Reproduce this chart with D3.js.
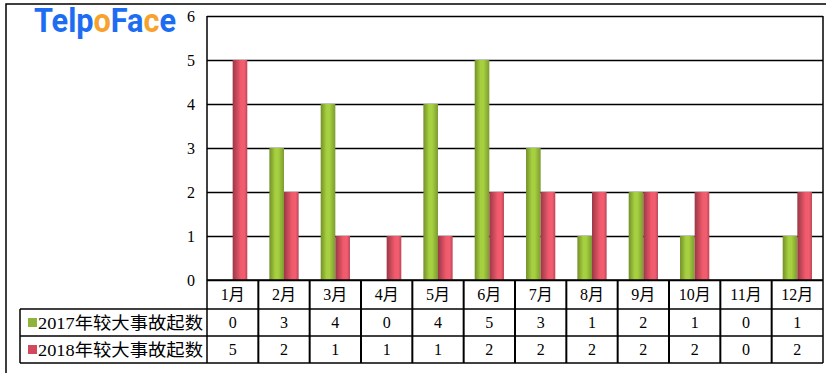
<!DOCTYPE html>
<html><head><meta charset="utf-8">
<script src="https://cdn.jsdelivr.net/npm/d3@7"></script>
<style>body{margin:0;background:#fff;}svg{display:block;}</style>
</head><body>
<svg id="c" width="826" height="373"></svg>
<script>
const months = ["1月","2月","3月","4月","5月","6月","7月","8月","9月","10月","11月","12月"];
const seriesNames = ["2017年较大事故起数","2018年较大事故起数"];
const values2017 = [0,3,4,0,4,5,3,1,2,1,0,1];
const values2018 = [5,2,1,1,1,2,2,2,2,2,0,2];
const yTicks = [0,1,2,3,4,5,6];

const svg = d3.select("#c");
const L = 207, R = 823, T = 16, B = 280;
const rowH = 27, headH = 29;
const serif = "'Liberation Serif','Noto Sans CJK SC',serif";

const defs = svg.append("defs");
function grad(id, stops){
  const g = defs.append("linearGradient").attr("id", id).attr("x1","0%").attr("x2","100%").attr("y1","0%").attr("y2","0%");
  stops.forEach(s => g.append("stop").attr("offset", s[0]).attr("stop-color", s[1]));
}
grad("gGreen", [["0%","#748f2a"],["40%","#a6d040"],["60%","#a6d040"],["100%","#7c9b30"]]);
grad("gRed", [["0%","#9a3846"],["55%","#f05a6c"],["80%","#f25d6f"],["100%","#b94558"]]);
const fills = ["url(#gGreen)","url(#gRed)"];
const swatch = ["#8fb43c","#d04a5c"];

const x0 = d3.scaleBand().domain(months).range([L, R]).padding(0);
const bw = x0.bandwidth();
const x1 = d3.scaleBand().domain([0,1]).range([0.215*bw, 0.785*bw]).padding(0);
const y = d3.scaleLinear().domain([0,6]).range([B, T]);

svg.append("path").attr("d", `M6,373 V4 H826`).attr("fill","none").attr("stroke","#000").attr("stroke-width",1.5);

const yAxis = d3.axisLeft(y).tickValues(yTicks).tickSize(-(R-L)).tickFormat(d3.format("d")).tickPadding(12);
const gy = svg.append("g").attr("transform",`translate(${L},0)`).call(yAxis);
gy.select(".domain").remove();
gy.selectAll(".tick line").attr("stroke","#000").attr("stroke-width",1.3);
gy.selectAll(".tick text").attr("font-family",serif).attr("font-size",16).attr("fill","#000").attr("dy","0.32em");

const data = [values2017, values2018];
data.forEach((vals, si) => {
  svg.append("g").selectAll("rect").data(vals).join("rect")
    .attr("x",(d,i)=>x0(months[i]) + x1(si))
    .attr("width", x1.bandwidth())
    .attr("y", d => y(d))
    .attr("height", d => B - y(d))
    .attr("fill", fills[si]);
});

const lineC = "#000";
svg.append("line").attr("x1",R).attr("x2",R).attr("y1",T).attr("y2",B+headH+2*rowH).attr("stroke",lineC).attr("stroke-width",1.5);
svg.append("line").attr("x1",L).attr("x2",L).attr("y1",T).attr("y2",B+headH+2*rowH).attr("stroke",lineC).attr("stroke-width",1.5);
svg.append("line").attr("x1",L).attr("x2",R).attr("y1",B).attr("y2",B).attr("stroke",lineC).attr("stroke-width",1.5);
[B+headH, B+headH+rowH, B+headH+2*rowH].forEach(yy=>{
  svg.append("line").attr("x1",20).attr("x2",R).attr("y1",yy).attr("y2",yy).attr("stroke",lineC).attr("stroke-width",1.5);
});
svg.append("line").attr("x1",20).attr("x2",20).attr("y1",B+headH).attr("y2",B+headH+2*rowH).attr("stroke",lineC).attr("stroke-width",1.5);
months.slice(1).forEach(m=>{
  svg.append("line").attr("x1",x0(m)).attr("x2",x0(m)).attr("y1",B).attr("y2",B+headH+2*rowH).attr("stroke",lineC).attr("stroke-width",2);
});
const xAxis = d3.axisBottom(x0).tickSize(0).tickPadding(0);
const gx = svg.append("g").attr("transform",`translate(0,${B})`).call(xAxis);
gx.select(".domain").remove();
gx.selectAll(".tick text").attr("font-family",serif).attr("font-size",16).attr("fill","#000").attr("y",headH/2).attr("dy","0.35em");

data.forEach((vals, si) => {
  const cy = B + headH + rowH*si + rowH/2;
  svg.append("g").selectAll("text").data(vals).join("text")
    .attr("x",(d,i)=>x0(months[i]) + bw/2)
    .attr("y", cy).attr("dy","0.35em")
    .attr("text-anchor","middle")
    .attr("font-family",serif).attr("font-size",16).attr("fill","#000")
    .text(d=>d);
  svg.append("rect").attr("x",28).attr("y",cy-4.5).attr("width",9).attr("height",9).attr("fill",swatch[si]);
  svg.append("text").attr("x",38).attr("y",cy).attr("dy","0.36em")
    .attr("font-family",serif).attr("font-size",17).attr("fill","#000")
    .attr("textLength",165).attr("lengthAdjust","spacingAndGlyphs")
    .text(seriesNames[si]);
});

// logo watermark: one text element, colored via hard-stop gradient
const blue="#1d6cf2", orange="#f7a12e";
const logoParts = [["Telp",blue],["o",orange],["Fa",blue],["c",orange],["e",blue]];
const logoX = 34, logoW = 142;
const logoFont = {family:"Roboto, 'Open Sans', sans-serif", weight:700, size:33};
const meas = svg.append("text").attr("font-family",logoFont.family).attr("font-weight",logoFont.weight).attr("font-size",logoFont.size);
const widths = logoParts.map(p => { meas.text(p[0]); return meas.node().getComputedTextLength(); });
meas.remove();
const total = d3.sum(widths);
const lg = defs.append("linearGradient").attr("id","logoG").attr("gradientUnits","userSpaceOnUse")
  .attr("x1",logoX).attr("x2",logoX+logoW).attr("y1",0).attr("y2",0);
let acc = 0;
logoParts.forEach((p,i)=>{
  lg.append("stop").attr("offset", acc/total).attr("stop-color", p[1]);
  acc += widths[i];
  lg.append("stop").attr("offset", acc/total).attr("stop-color", p[1]);
});
svg.append("text").attr("x",logoX).attr("y",32)
  .attr("font-family",logoFont.family).attr("font-weight",logoFont.weight).attr("font-size",logoFont.size)
  .attr("textLength",logoW).attr("lengthAdjust","spacingAndGlyphs")
  .attr("fill","url(#logoG)")
  .text(logoParts.map(p=>p[0]).join(""));
</script>
</body></html>
